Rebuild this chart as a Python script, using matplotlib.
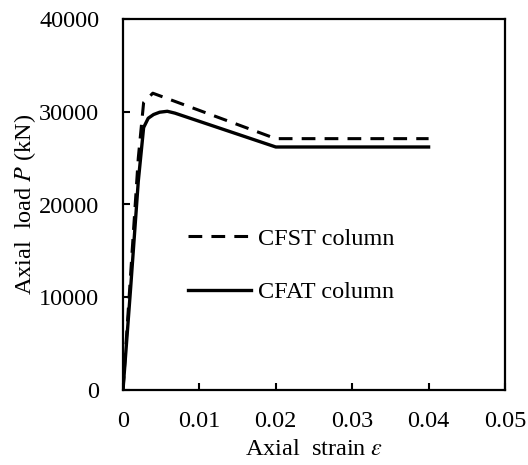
import matplotlib

matplotlib.use("Agg")

import matplotlib.pyplot as plt

# load-strain curves
cfst_strain = [0, 0.001, 0.002, 0.0027, 0.0039, 0.02, 0.04]
cfst_load = [0, 12500, 25000, 31000, 32000, 27100, 27100]

cfat_strain = [0, 0.001, 0.002, 0.0027, 0.0033, 0.004, 0.0048, 0.0058, 0.0068, 0.02, 0.04]
cfat_load = [0, 11000, 22500, 28300, 29300, 29700, 29950, 30050, 29850, 26200, 26200]

x_ticks = [0, 0.01, 0.02, 0.03, 0.04, 0.05]
x_tick_labels = ["0", "0.01", "0.02", "0.03", "0.04", "0.05"]
y_ticks = [0, 10000, 20000, 30000, 40000]

plt.rcParams["font.family"] = ["Liberation Serif", "DejaVu Serif"]
plt.rcParams["mathtext.fontset"] = "stix"
fs = 17.5

fig = plt.figure(figsize=(5.28, 4.65), dpi=100)
ax = fig.add_axes([123 / 528, 75 / 465, 382 / 528, 371 / 465])

ax.plot(cfst_strain, cfst_load, color="black", lw=2.2, dashes=(4.5, 3),
        label="CFST column")
ax.plot(cfat_strain, cfat_load, color="black", lw=2.4, label="CFAT column")

ax.set_xlim(0, 0.05)
ax.set_ylim(0, 40000)
ax.set_xticks(x_ticks)
ax.set_xticklabels(x_tick_labels)
ax.set_yticks(y_ticks)
ax.tick_params(axis="x", direction="in", length=5, width=1.5, labelsize=fs, pad=15)
ax.tick_params(axis="y", direction="in", length=5, width=1.5, labelsize=fs, pad=17)
for spine in ax.spines.values():
    spine.set_linewidth(1.6)

ax.set_xlabel(r"Axial  strain $\mathit{\varepsilon}$", fontsize=fs, labelpad=5)
ax.set_ylabel(r"Axial  load $\mathit{P}$ (kN)", fontsize=fs, labelpad=1)

ax.legend(loc="upper left", bbox_to_anchor=(0.112, 0.497), frameon=False,
          fontsize=fs, handlelength=2.6, labelspacing=1.3, handletextpad=0.3)

fig.savefig("out.png", dpi=100)
plt.close(fig)
